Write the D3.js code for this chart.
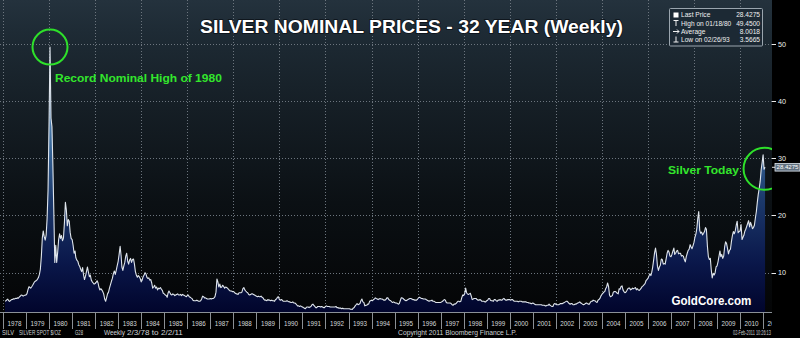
<!DOCTYPE html>
<html><head><meta charset="utf-8">
<script src="https://cdn.jsdelivr.net/npm/d3@7"></script>
<style>html,body{margin:0;padding:0;background:#000;overflow:hidden}svg{display:block}</style>
</head><body><svg id="c" width="800" height="338"></svg>
<script>
// Semi-monthly silver prices (USD/oz), samples on the 1st and 16th of each month
const p1978 = [5.02,5.08,5.25,5.38,5.10,4.98,5.15,5.30,5.32,5.45,5.40,5.52,5.48,5.60,5.55,5.75,5.88,6.10,6.05,5.90,6.00,6.08];
const p1979 = [6.10,6.35,7.05,7.55,7.45,7.30,7.55,7.80,8.10,8.40,8.55,8.65,8.85,9.15,9.70,10.6,12.9,16.1,17.3,16.3,15.7,16.6,19.5,24.5];
const p1980 = [36.5,49.45,37.0,35.5,29.0,21.0,11.8,14.8,11.8,13.5,15.8,16.8,16.0,16.5,15.6,16.0,18.8,22.3,21.0,18.2,19.3,19.0,17.0,16.0];
const p1981 = [15.8,14.8,13.4,13.8,12.6,12.2,12.0,11.4,11.1,10.6,10.2,10.9,9.6,8.8,9.4,10.2,11.0,10.1,9.3,9.6,8.7,8.4,8.2,8.0];
const p1982 = [8.1,8.3,8.6,8.2,7.5,7.0,7.2,7.0,6.7,6.3,5.4,5.0,5.6,6.3,6.6,7.3,7.9,8.5,9.0,9.8,10.3,9.7,10.4,11.2];
const p1983 = [12.0,13.2,14.6,13.0,11.0,10.4,11.2,11.8,12.9,13.4,12.0,11.5,12.2,12.5,11.8,12.3,12.4,11.5,10.2,9.6,9.2,9.5,9.3,9.0];
const p1984 = [8.4,8.7,9.3,9.6,10.0,9.8,9.2,9.0,9.1,8.7,8.8,8.2,7.3,7.5,7.8,7.3,7.5,7.0,7.3,7.2,7.4,7.1,6.9,6.4];
const p1985 = [6.3,6.1,6.0,5.7,6.4,6.8,6.5,6.2,6.1,6.3,6.2,6.0,6.1,6.2,6.3,6.1,6.1,6.2,6.0,6.2,6.1,6.0,5.9,5.8];
const p1986 = [6.0,6.1,5.8,5.7,5.6,5.5,5.2,5.1,5.1,5.1,5.2,5.1,5.0,5.0,5.1,5.4,5.9,5.8,5.6,5.6,5.5,5.4,5.4,5.4];
const p1987 = [5.5,5.4,5.5,5.5,5.6,5.8,6.6,8.9,8.4,7.5,8.0,7.4,7.5,7.8,7.6,7.3,7.5,7.4,7.3,7.1,6.9,6.8,6.8,6.7];
const p1988 = [6.7,6.6,6.4,6.3,6.3,6.2,6.5,6.5,6.5,6.6,7.2,7.4,7.0,6.8,6.6,6.5,6.2,6.1,6.2,6.3,6.3,6.2,6.1,6.0];
const p1989 = [5.9,5.8,5.9,5.8,5.8,5.9,5.7,5.6,5.3,5.2,5.2,5.1,5.3,5.2,5.2,5.1,5.2,5.1,5.1,5.0,5.3,5.4,5.7,5.8];
const p1990 = [5.3,5.2,5.3,5.2,5.0,5.0,5.0,5.0,5.1,5.0,4.9,4.9,4.8,4.8,4.9,4.7,4.7,4.6,4.4,4.2,4.2,4.1,4.2,4.1];
const p1991 = [4.0,3.9,3.8,3.7,3.9,4.0,4.0,3.9,4.0,4.1,4.4,4.5,4.3,4.1,3.9,3.9,4.1,4.1,4.1,4.0,4.1,4.0,3.9,3.9];
const p1992 = [4.1,4.2,4.1,4.1,4.1,4.0,4.0,4.0,4.0,4.0,4.0,4.1,3.9,3.9,3.8,3.8,3.8,3.7,3.8,3.7,3.7,3.7,3.7,3.7];
const p1993 = [3.7,3.7,3.6,3.6,3.57,3.8,3.9,4.2,4.4,4.6,4.4,4.5,4.6,5.1,5.4,4.9,4.8,4.2,4.3,4.3,4.5,4.5,5.0,5.1];
const p1994 = [5.2,5.1,5.3,5.4,5.6,5.5,5.4,5.3,5.4,5.5,5.4,5.4,5.3,5.2,5.2,5.3,5.6,5.6,5.3,5.2,5.1,4.9,4.8,4.9];
const p1995 = [4.8,4.7,4.7,4.6,4.5,4.6,5.1,5.6,5.6,5.5,5.3,5.2,5.1,5.2,5.3,5.4,5.5,5.5,5.4,5.3,5.3,5.2,5.2,5.2];
const p1996 = [5.4,5.6,5.7,5.6,5.5,5.5,5.4,5.4,5.4,5.3,5.2,5.1,5.0,5.1,5.1,5.2,5.0,5.0,4.9,4.8,4.8,4.8,4.8,4.8];
const p1997 = [4.8,4.9,5.0,5.2,5.3,5.2,4.8,4.7,4.7,4.7,4.7,4.6,4.4,4.3,4.5,4.5,4.6,4.8,5.0,5.0,4.9,5.0,5.6,6.1];
const p1998 = [6.0,6.3,7.3,6.5,6.3,6.2,6.3,6.4,5.9,5.3,5.4,5.5,5.5,5.5,5.3,5.2,5.2,5.3,5.2,5.0,5.0,5.0,4.9,4.9];
const p1999 = [5.1,5.2,5.5,5.5,5.2,5.1,5.1,5.0,5.3,5.3,5.1,5.0,5.2,5.2,5.3,5.2,5.2,5.4,5.5,5.3,5.2,5.2,5.3,5.3];
const p2000 = [5.3,5.2,5.3,5.3,5.1,5.0,5.0,5.0,5.0,4.9,5.0,5.0,5.0,4.9,4.9,4.9,4.9,4.9,4.8,4.8,4.7,4.7,4.6,4.6];
const p2001 = [4.7,4.6,4.5,4.4,4.4,4.4,4.4,4.4,4.4,4.4,4.3,4.3,4.3,4.2,4.2,4.3,4.3,4.5,4.3,4.2,4.1,4.1,4.5,4.6];
const p2002 = [4.5,4.4,4.4,4.4,4.5,4.6,4.6,4.6,4.7,4.8,4.9,5.0,5.0,4.8,4.6,4.5,4.6,4.6,4.4,4.4,4.5,4.5,4.6,4.7];
const p2003 = [4.8,4.9,4.7,4.6,4.5,4.4,4.5,4.6,4.7,4.6,4.5,4.5,4.8,5.0,5.0,5.2,5.1,5.1,4.9,4.8,5.2,5.3,5.5,5.9];
const p2004 = [6.2,6.4,6.6,6.7,7.2,7.5,8.2,7.6,6.1,5.8,5.9,6.0,6.6,6.7,6.7,6.6,6.4,6.3,7.2,7.1,7.6,7.7,7.0,6.7];
const p2005 = [6.5,6.6,6.9,7.2,7.3,7.3,7.0,7.1,7.3,7.2,7.3,7.4,7.0,7.2,7.0,6.9,7.1,7.3,7.6,7.7,7.9,8.1,8.6,8.8];
const p2006 = [9.0,9.4,9.8,9.5,10.0,10.9,12.2,13.5,14.3,13.2,11.1,10.4,11.0,11.3,12.4,12.3,11.5,11.6,11.5,12.4,13.4,13.9,13.6,12.9];
const p2007 = [12.8,13.2,13.8,14.3,13.2,13.4,13.8,13.9,13.3,13.4,13.4,12.9,13.0,12.9,12.3,11.9,12.8,13.4,13.9,14.1,14.9,14.5,14.2,14.7];
const p2008 = [15.3,16.2,16.8,17.8,19.5,20.7,17.4,16.9,17.1,16.6,16.9,17.2,17.9,17.6,14.6,12.8,12.3,12.5,10.5,9.1,9.9,9.6,10.0,11.0];
const p2009 = [11.2,11.9,12.9,13.8,12.8,13.2,12.5,12.9,14.5,15.4,15.1,14.2,13.3,13.9,14.1,15.4,16.5,17.2,16.8,17.3,18.3,19.0,17.0,17.2];
const p2010 = [17.3,18.4,15.8,16.2,16.5,17.2,17.6,18.1,18.6,19.1,18.0,18.8,18.3,17.7,17.9,18.3,19.6,20.7,22.3,23.7,24.8,26.0,28.0,29.2];
const p2011 = [30.6,28.1,28.4275];

const seriesYears = [1978,1979,1980,1981,1982,1983,1984,1985,1986,1987,1988,1989,1990,1991,1992,1993,1994,1995,1996,1997,1998,1999,2000,2001,2002,2003,2004,2005,2006,2007,2008,2009,2010,2011];
const seriesValues = [p1978,p1979,p1980,p1981,p1982,p1983,p1984,p1985,p1986,p1987,p1988,p1989,p1990,p1991,p1992,p1993,p1994,p1995,p1996,p1997,p1998,p1999,p2000,p2001,p2002,p2003,p2004,p2005,p2006,p2007,p2008,p2009,p2010,p2011];
const firstMonthIndex = 2; // series starts in February 1978

const yTicks = [10,20,30,40,50];
const axisYears = d3.range(1978, 2012);
const legendLabels = ["Last Price","High on 01/18/80","Average","Low on 02/26/93"];
const legendValues = ["28.4275","49.4500","8.0018","3.5665"];
const lastPrice = 28.4275;
const highPoint = {date:"1980-01-16", value:49.45};
const footerTexts = ["SILV","SILVER SPOT $/OZ","G28","Weekly","2/3/78 to 2/2/11","Copyright 2011 Bloomberg Finance L.P.","02-Feb-2011 10:26:13"];

const data = [];
seriesYears.forEach((yr, j) => {
  const off = j === 0 ? firstMonthIndex : 0;
  seriesValues[j].forEach((v, i) => {
    const k = i + off;
    data.push({date: new Date(yr, Math.floor(k/2), k % 2 ? 16 : 1), value: v});
  });
});

const W = 800, H = 338, PW = 772, PB = 312;
const FF = "Liberation Sans, Arial, sans-serif";
const svg = d3.select("#c");
const defs = svg.append("defs");

const x = d3.scaleTime().domain([new Date(1977,10,14), new Date(2011,4,22)]).range([0, PW]);
const y = d3.scaleLinear().domain([0,50]).range([329.9, 43.9]);

// fit a text to a target width with a horizontal scale (keeps bbox honest)
function fitText(sel, px, py, width, anchor) {
  sel.attr("x",0).attr("y",0).attr("text-anchor", anchor || "start");
  const w = sel.node().getComputedTextLength();
  const s = w > 0 ? width / w : 1;
  sel.attr("transform", `translate(${px},${py}) scale(${s},1)`);
}

// backgrounds
const bg = defs.append("linearGradient").attr("id","bg").attr("x1",0).attr("y1",0).attr("x2",0).attr("y2",1);
[[0,"#24323d"],[0.1,"#1e2b35"],[0.35,"#151e25"],[0.65,"#0b1014"],[1,"#040506"]].forEach(s=>bg.append("stop").attr("offset",s[0]).attr("stop-color",s[1]));
const ag = defs.append("linearGradient").attr("id","ag").attr("gradientUnits","userSpaceOnUse").attr("x1",0).attr("y1",PB).attr("x2",0).attr("y2",40);
[[0,"#01052c"],[0.18,"#0a174a"],[0.42,"#1c3a6c"],[0.62,"#3a6a9c"],[1,"#86b4e2"]].forEach(s=>ag.append("stop").attr("offset",s[0]).attr("stop-color",s[1]));
defs.append("clipPath").attr("id","plot").append("rect").attr("x",0).attr("y",0).attr("width",PW).attr("height",PB);
defs.append("clipPath").attr("id","xl").append("rect").attr("x",0).attr("y",PB).attr("width",PW).attr("height",20);

svg.append("rect").attr("width",W).attr("height",H).attr("fill","#000");
svg.append("rect").attr("width",PW).attr("height",PB).attr("fill","url(#bg)");

const plot = svg.append("g").attr("clip-path","url(#plot)");

// grid
const gridYears = axisYears.filter(d => d % 2 === 0);
plot.selectAll(".vg").data(gridYears).enter().append("line")
  .attr("x1",d=>Math.round(x(new Date(d,0,1)))+0.5).attr("x2",d=>Math.round(x(new Date(d,0,1)))+0.5)
  .attr("y1",0).attr("y2",PB).attr("stroke","#6c757e").attr("stroke-width",1).attr("stroke-dasharray","1,2");
plot.selectAll(".hg").data(yTicks).enter().append("line")
  .attr("x1",0).attr("x2",PW).attr("y1",d=>Math.round(y(d))+0.5).attr("y2",d=>Math.round(y(d))+0.5)
  .attr("stroke","#6c757e").attr("stroke-width",1).attr("stroke-dasharray","1,2");

// area + line
const area = d3.area().x(d=>x(d.date)).y0(PB).y1(d=>y(d.value));
const line = d3.line().x(d=>x(d.date)).y(d=>y(d.value));
plot.append("path").datum(data).attr("d",area).attr("fill","url(#ag)");
plot.append("path").datum(data).attr("d",line).attr("fill","none").attr("stroke","#dfe5ec").attr("stroke-width",1.1).attr("stroke-linejoin","round");

// annotation circles
const hp = {x: x(new Date(highPoint.date)), y: y(highPoint.value)};
plot.append("circle").attr("cx",hp.x).attr("cy",hp.y).attr("r",17.5).attr("fill","none").attr("stroke","#2ee02a").attr("stroke-width",2);
const last = data[data.length-2];
plot.append("circle").attr("cx",x(last.date)+0.5).attr("cy",y(lastPrice)+1.5).attr("r",21).attr("fill","none").attr("stroke","#2ee02a").attr("stroke-width",2);

// bottom line of plot
svg.append("line").attr("x1",0).attr("x2",PW).attr("y1",PB+0.5).attr("y2",PB+0.5).attr("stroke","#8a9096").attr("stroke-width",1);

// x axis
const xa = svg.append("g");
xa.selectAll(".xt").data(axisYears).enter().append("line")
  .attr("x1",d=>Math.round(x(new Date(d,0,1)))+0.5).attr("x2",d=>Math.round(x(new Date(d,0,1)))+0.5)
  .attr("y1",PB+1).attr("y2",329).attr("stroke","#8a8f94").attr("stroke-width",1);
xa.append("g").attr("clip-path","url(#xl)").selectAll(".xl").data(axisYears).enter().append("text")
  .attr("fill","#d6d9dc").attr("font-family",FF).attr("font-size",7.4).text(d=>d)
  .each(function(d){ fitText(d3.select(this), (x(new Date(d,0,1))+x(new Date(d+1,0,1)))/2, 326, 14, "middle"); });

// y axis (right)
const ya = svg.append("g");
ya.selectAll(".yt").data(yTicks).enter().append("line")
  .attr("x1",PW).attr("x2",PW+4).attr("y1",d=>Math.round(y(d))+0.5).attr("y2",d=>Math.round(y(d))+0.5)
  .attr("stroke","#e8e8e8").attr("stroke-width",1);
ya.selectAll(".yl").data(yTicks).enter().append("text")
  .attr("x",PW+6).attr("y",d=>y(d)+2.6).attr("fill","#eeeeee").attr("font-family",FF)
  .attr("font-size",7.2).text(d=>d);
// last price tag
const ly = y(lastPrice);
ya.append("line").attr("x1",PW).attr("x2",PW+3).attr("y1",ly).attr("y2",ly).attr("stroke","#e8e8e8");
ya.append("rect").attr("x",PW+3).attr("y",ly-3.8).attr("width",25).attr("height",7.6).attr("fill","#60707f").attr("stroke","#dfe6ee").attr("stroke-width",0.8);
ya.append("text").attr("fill","#ffffff").attr("font-family",FF).attr("font-size",6).text(legendValues[0])
  .call(s=>fitText(s, PW+15.5, ly+2.2, 22, "middle"));

// title
svg.append("text").attr("font-family",FF).attr("font-weight","bold").attr("font-size",18)
  .attr("fill","#ffffff").attr("stroke","#0b1016").attr("stroke-width",1.5).attr("paint-order","stroke")
  .text("SILVER NOMINAL PRICES - 32 YEAR (Weekly)")
  .call(s=>fitText(s, 411.5, 33, 423, "middle"));

// annotations
svg.append("text").attr("font-family",FF).attr("font-weight","bold").attr("font-size",10).attr("fill","#33e62c")
  .text("Record Nominal High of 1980").call(s=>fitText(s, 55, 81.5, 167));
svg.append("text").attr("font-family",FF).attr("font-weight","bold").attr("font-size",11).attr("fill","#33e62c")
  .text("Silver Today").call(s=>fitText(s, 668, 174, 71));
svg.append("text").attr("font-family",FF).attr("font-weight","bold").attr("font-size",12).attr("fill","#ffffff")
  .text("GoldCore.com").call(s=>fitText(s, 671.5, 305, 80));

// legend
const lg = svg.append("g");
lg.append("rect").attr("x",669.5).attr("y",8.5).attr("width",93).attr("height",37.5).attr("rx",1)
  .attr("fill","#1c2934").attr("stroke","#9aa5ae").attr("stroke-width",1);
const rowY = [17.3,25.6,33.6,41.8];
lg.selectAll(".ll").data(legendLabels).enter().append("text").attr("x",681).attr("y",(d,i)=>rowY[i])
  .attr("fill","#f0f0f0").attr("font-family",FF).attr("font-size",6.6).text(d=>d);
lg.selectAll(".lv").data(legendValues).enter().append("text").attr("x",760).attr("y",(d,i)=>rowY[i]).attr("text-anchor","end")
  .attr("fill","#f0f0f0").attr("font-family",FF).attr("font-size",6.6).text(d=>d);
lg.append("rect").attr("x",673.5).attr("y",12.5).attr("width",5).attr("height",5).attr("fill","#ffffff");
lg.append("path").attr("d","M673.5,20.5h5M676,20.5v5.5").attr("stroke","#f0f0f0").attr("fill","none");
lg.append("path").attr("d","M673,31.5h6M677,29.5l2,2l-2,2").attr("stroke","#f0f0f0").attr("fill","none");
lg.append("path").attr("d","M676,36.5v5.5M673.5,42h5").attr("stroke","#f0f0f0").attr("fill","none");

// footer
const footerX = [2,19,75,104,127,398,733];
const footerW = [12,42,8,21,56,119,38];
svg.selectAll(".ft").data(footerTexts).enter().append("text")
  .attr("fill","#cfd2d5").attr("font-family",FF).attr("font-size",7).text(d=>d)
  .each(function(d,i){ fitText(d3.select(this), footerX[i], 335, footerW[i]); });
</script></body></html>
